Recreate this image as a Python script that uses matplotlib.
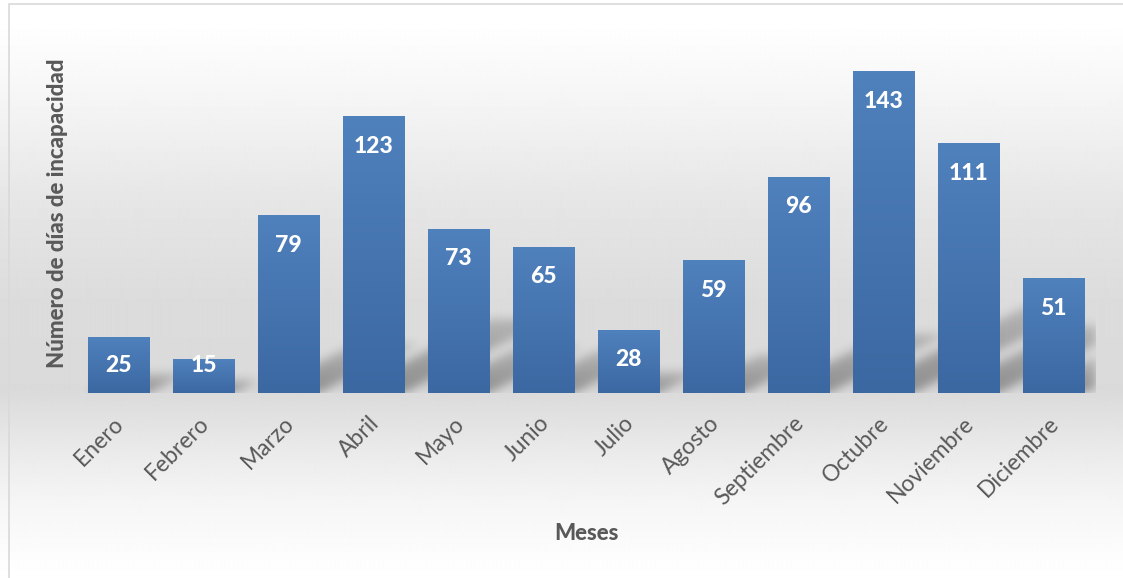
import numpy as np
import matplotlib
matplotlib.use("Agg")
import matplotlib.pyplot as plt
from matplotlib.colors import LinearSegmentedColormap
from matplotlib.patches import Rectangle
from matplotlib.transforms import ScaledTranslation

meses = ["Enero", "Febrero", "Marzo", "Abril", "Mayo", "Junio", "Julio",
         "Agosto", "Septiembre", "Octubre", "Noviembre", "Diciembre"]
dias = [25, 15, 79, 123, 73, 65, 28, 59, 96, 143, 111, 51]

W, H = 1123, 578
plt.rcParams['font.family'] = ['Lato', 'DejaVu Sans']
text_gray = '#595959'

fig = plt.figure(figsize=(W / 100, H / 100), dpi=100)

# background: vertical gray gradient like the Excel chart area
bg = fig.add_axes([0, 0, 1, 1], zorder=-5)
rows = np.arange(H)
stops_y = [0, 30, 100, 200, 300, 390, 450, 500, 560, 578]
stops_v = [255, 254, 245, 230, 220, 218, 234, 245, 253, 255]
col = np.interp(rows, stops_y, stops_v) / 255.0
bg.imshow(np.repeat(col[:, None], 8, axis=1), cmap='gray', vmin=0, vmax=1,
          aspect='auto', extent=[0, 1, 0, 1], interpolation='bilinear')
bg.set_xlim(0, 1)
bg.set_ylim(0, 1)
bg.axis('off')
bg.add_patch(Rectangle((9 / W, -0.1), 1.2, 1 - 4 / H + 0.1, fill=False,
                       edgecolor='#d9d9d9', lw=1.2))

# plot area in pixels: x 76..1096, baseline at y=393, top at y=33
ax = fig.add_axes([76 / W, (H - 393) / H, 1020 / W, 360 / H])
ax.set_facecolor('none')
ymax = 160
x = np.arange(len(meses))
bw = 0.72

# soft diagonal shadows behind the bars
px_w, px_h = 1020, 360
gx = (np.arange(px_w) + 0.5)
gy = (np.arange(px_h) + 0.5)
GX, GY = np.meshgrid(gx, gy)  # GY: pixels above baseline
alpha = np.zeros((px_h, px_w))
unit_x = px_w / 12.0
unit_y = px_h / ymax
for xi, v in zip(x, dias):
    xl = (xi + 0.5 - bw / 2) * unit_x
    xr = (xi + 0.5 + bw / 2) * unit_x
    sh = 0.25 * v * unit_y + 5
    t = 2.0
    m = (GY <= sh) & (GX >= xl + GY * t) & (GX <= xr + GY * t)
    alpha = np.maximum(alpha, m * 0.36 * (1 - 0.5 * GY / sh))

def blur(a, sigma):
    r = int(sigma * 3)
    k = np.exp(-0.5 * (np.arange(-r, r + 1) / sigma) ** 2)
    k /= k.sum()
    a = np.apply_along_axis(lambda c: np.convolve(c, k, mode='same'), 0, a)
    a = np.apply_along_axis(lambda c: np.convolve(c, k, mode='same'), 1, a)
    return a

alpha = blur(alpha, 5)
shadow = np.zeros((px_h, px_w, 4))
shadow[..., 3] = alpha[::-1]
ax.imshow(shadow, extent=[-0.5, 11.5, 0, ymax], aspect='auto', zorder=1,
          interpolation='bilinear')

bars = ax.bar(x, dias, width=bw, color='#4a7ab5', zorder=2)
bar_cmap = LinearSegmentedColormap.from_list('barblue', ['#3c68a2', '#4f81bd'])
grad = np.linspace(1, 0, 100)[:, None]
for b in bars:
    x0 = b.get_x()
    im = ax.imshow(grad, cmap=bar_cmap, vmin=0, vmax=1, aspect='auto',
                   extent=[x0, x0 + b.get_width(), 0, b.get_height()], zorder=3)
    im.set_clip_path(b)

# labels sit ~30px under the bar top, but never lower than 27px above the axis
for xi, v in zip(x, dias):
    ax.text(xi, max(v - 13.3, 12), str(v), ha='center', va='center',
            color='white', fontsize=16.5, fontweight='black', zorder=4)

ax.set_xlim(-0.5, 11.5)
ax.set_ylim(0, ymax)
ax.set_xticks(x)
ax.set_xticklabels(meses, rotation=45, ha='right', rotation_mode='anchor',
                   fontsize=16.5, color=text_gray)
ax.tick_params(axis='x', length=0, pad=14)
shift = ScaledTranslation(-5 / 100, 0, fig.dpi_scale_trans)
for lbl in ax.get_xticklabels():
    lbl.set_transform(lbl.get_transform() + shift)
ax.set_yticks([])
for s in ax.spines.values():
    s.set_visible(False)

fig.text(58 / W, 1 - 213 / H, "Número de días de incapacidad", rotation=90,
         ha='center', va='center', fontsize=16, fontweight='black', color=text_gray)
fig.text(586 / W, 1 - 533 / H, "Meses", ha='center', va='center',
         fontsize=16, fontweight='black', color=text_gray)

fig.savefig('out.png', dpi=100)
